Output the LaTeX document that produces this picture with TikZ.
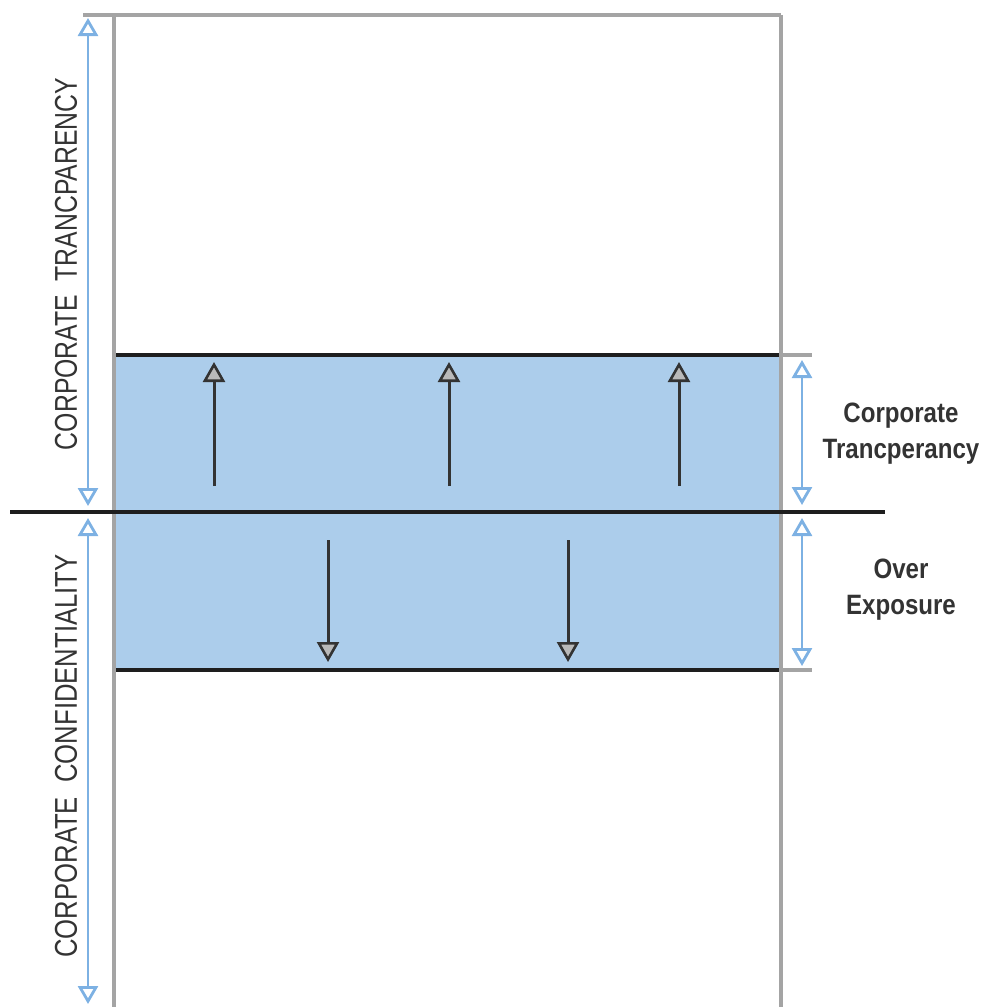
\documentclass[tikz,border=0pt]{standalone}
\usepackage{fontspec}
\setmainfont{Liberation Sans}
\usetikzlibrary{arrows.meta}
\definecolor{bandblue}{HTML}{ACCDEB}
\definecolor{dimblue}{HTML}{7DB1E3}
\definecolor{framegray}{HTML}{A4A4A4}
\definecolor{inkdark}{HTML}{333333}
\definecolor{linedark}{HTML}{1E1E1E}
\tikzset{
  framepen/.style={draw=framegray, line width=3.4pt},
  blackpen/.style={draw=linedark, line width=3.4pt},
  dimarrow/.style={draw=dimblue, line width=2.6pt,
    {Triangle[open, length=18pt, width=20pt, line width=2.8pt]}-{Triangle[open, length=18pt, width=20pt, line width=2.8pt]}},
  flowarrow/.style={draw=inkdark, line width=3pt,
    -{Triangle[length=20pt, width=22pt, fill=gray!55, line width=2.6pt]}},
  sidelabel/.style={text=inkdark, font=\fontsize{28}{36}\selectfont\bfseries, inner sep=0pt},
  vlabel/.style={text=inkdark, inner sep=0pt, rotate=90}
}
\begin{document}
\begin{tikzpicture}[x=1pt,y=-1pt]
\useasboundingbox (0,0) rectangle (985,1007);
% band
\fill[bandblue] (114,355) rectangle (781,670);
\draw[blackpen] (114,355) -- (781,355);
\draw[blackpen] (114,670) -- (781,670);
% frame
\draw[framepen] (83,15) -- (781,15);
\draw[framepen] (114,15) -- (114,1007);
\draw[framepen] (781,15) -- (781,1007);
\draw[framepen] (781,355) -- (812,355);
\draw[framepen] (781,670) -- (812,670);
% middle line
\draw[blackpen] (10,512) -- (885,512);
% coordinates
\coordinate (lt1) at (88,18);
\coordinate (lt2) at (88,506);
\coordinate (lb1) at (88,518);
\coordinate (lb2) at (88,1004);
\coordinate (rt1) at (802,360);
\coordinate (rt2) at (802,505);
\coordinate (rb1) at (802,518);
\coordinate (rb2) at (802,666);
\draw[dimarrow] (lt1) -- (lt2);
\draw[dimarrow] (lb1) -- (lb2);
\draw[dimarrow] (rt1) -- (rt2);
\draw[dimarrow] (rb1) -- (rb2);
% flow arrows
\coordinate (u1s) at (214,486); \coordinate (u1e) at (214,362);
\coordinate (u2s) at (449,486); \coordinate (u2e) at (449,362);
\coordinate (u3s) at (679,486); \coordinate (u3e) at (679,362);
\coordinate (d1s) at (328,540); \coordinate (d1e) at (328,662);
\coordinate (d2s) at (568,540); \coordinate (d2e) at (568,662);
\draw[flowarrow] (u1s) -- (u1e);
\draw[flowarrow] (u2s) -- (u2e);
\draw[flowarrow] (u3s) -- (u3e);
\draw[flowarrow] (d1s) -- (d1e);
\draw[flowarrow] (d2s) -- (d2e);
% labels
\node[vlabel] (vt) at (66,264) {\resizebox{372pt}{22pt}{CORPORATE\ \ TRANCPARENCY}};
\node[vlabel] (vb) at (66,756) {\resizebox{403pt}{22pt}{CORPORATE\ \ CONFIDENTIALITY}};
\node[sidelabel] (st) at (901,433) {\scalebox{0.86}[1]{\begin{tabular}{@{}c@{}}Corporate\\Trancperancy\end{tabular}}};
\node[sidelabel] (so) at (901,589) {\scalebox{0.86}[1]{\begin{tabular}{@{}c@{}}Over\\Exposure\end{tabular}}};
\end{tikzpicture}
\end{document}
